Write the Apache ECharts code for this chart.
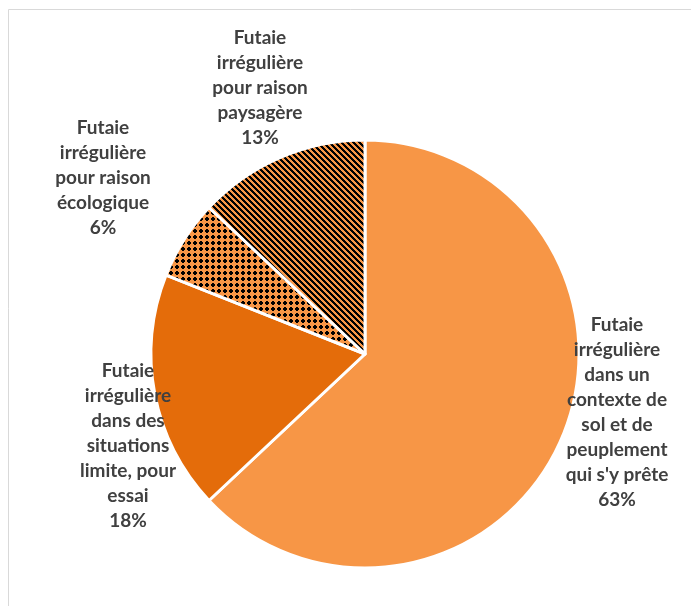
<!DOCTYPE html>
<html>
<head>
<meta charset="utf-8">
<script src="https://cdn.jsdelivr.net/npm/echarts@6/dist/echarts.min.js"></script>
<style>
  html, body { margin: 0; padding: 0; background: #fff; }
  #chart { width: 691px; height: 606px; }
</style>
</head>
<body>
<div id="chart"></div>
<script>
const categories = [
  "Futaie\nirrégulière\ndans un\ncontexte de\nsol et de\npeuplement\nqui s'y prête",
  'Futaie\nirrégulière\ndans des\nsituations\nlimite, pour\nessai',
  'Futaie\nirrégulière\npour raison\nécologique',
  'Futaie\nirrégulière\npour raison\npaysagère'
]
const shares = [63, 18, 6, 13]

// where Excel put each label (centre of the text block)
const labelPos = [[617, 412], [128, 446], [103, 178], [260, 88]]

const ORANGE = '#F79646'
const DARK_ORANGE = '#E46C0A'

function makePattern(size, isInk) {
  const c = document.createElement('canvas')
  c.width = size
  c.height = size
  const ctx = c.getContext('2d')
  ctx.fillStyle = ORANGE
  ctx.fillRect(0, 0, size, size)
  ctx.fillStyle = '#000'
  for (let y = 0; y < size; y++) {
    for (let x = 0; x < size; x++) {
      if (isInk(x, y)) ctx.fillRect(x, y, 1, 1)
    }
  }
  return c
}

// narrow downward diagonal
const stripes = makePattern(6, (x, y) => ((x - y + 12) % 6) < 3)
// dotted grid, small rounded squares
const dots = makePattern(6, (x, y) => {
  if (y === 1 || y === 4) return x === 2 || x === 3
  if (y === 2 || y === 3) return x >= 1 && x <= 4
  return false
})

const fills = [
  ORANGE,
  DARK_ORANGE,
  { image: dots, repeat: 'repeat' },
  { image: stripes, repeat: 'repeat' }
]

const chart = echarts.init(document.getElementById('chart'))

chart.setOption({
  animation: false,
  graphic: [{
    type: 'rect',
    shape: { x: 8.5, y: 9.5, width: 800, height: 800 },
    style: { fill: 'none', stroke: '#d9d9d9', lineWidth: 1 },
    silent: true
  }],
  series: [{
    type: 'pie',
    center: [365, 354],
    radius: 214,
    startAngle: 90,
    clockwise: true,
    itemStyle: { borderColor: '#fff', borderWidth: 3 },
    label: {
      show: true,
      formatter: p => p.name + '\n' + p.value + '%',
      fontFamily: 'Lato',
      fontWeight: 'bold',
      fontSize: 19,
      lineHeight: 25,
      color: '#404040',
      align: 'center',
      overflow: 'none'
    },
    labelLine: { show: false },
    labelLayout: p => ({
      x: labelPos[p.dataIndex][0],
      y: labelPos[p.dataIndex][1],
      align: 'center',
      verticalAlign: 'middle'
    }),
    emphasis: { disabled: true },
    data: shares.map((v, i) => ({
      name: categories[i],
      value: v,
      itemStyle: { color: fills[i] }
    }))
  }]
})
</script>
</body>
</html>
